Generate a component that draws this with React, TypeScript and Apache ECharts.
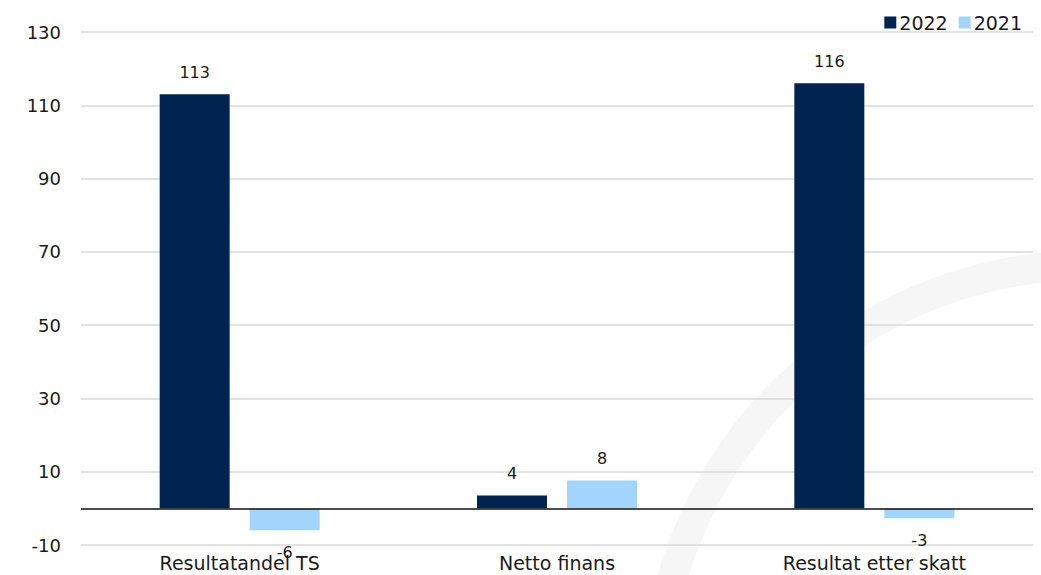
import React, { useEffect, useRef } from "react";
import * as echarts from "echarts";

const categories = ["Resultatandel TS", "Netto finans", "Resultat etter skatt"];
const values2022 = [113, 3.5, 116];
const values2021 = [-6, 7.6, -2.7];
const seriesNames = ["2022", "2021"];
const yTicks = { min: -10, max: 130, interval: 20 };

const FONT = "'DejaVu Sans', sans-serif";
const TEXT = "#1a1a1a";

function toData(vals: number[]) {
  return vals.map((v) => ({
    value: v,
    label: { position: v < 0 ? "bottom" : "top" },
  }));
}

export default function App() {
  const ref = useRef<HTMLDivElement>(null);
  useEffect(() => {
    document.body.style.margin = "0";
    const chart = echarts.init(ref.current!, null, { renderer: "svg" });
    const labelCommon = {
      show: true,
      distance: 14,
      color: TEXT,
      fontFamily: FONT,
      fontSize: 16,
      formatter: (p: any) => String(Math.round(p.value)),
    };
    chart.setOption({
      animation: false,
      backgroundColor: "#ffffff",
      graphic: [
        {
          type: "arc",
          z: -10,
          silent: true,
          shape: { cx: 1090, cy: 700, r: 435, startAngle: -3.05, endAngle: -1.35, clockwise: true },
          style: { stroke: "#f6f6f6", lineWidth: 30, fill: null },
        },
      ],
      legend: {
        data: seriesNames,
        right: 14,
        top: 8,
        itemWidth: 12,
        itemHeight: 12,
        itemGap: 11,
        icon: "rect",
        textStyle: { color: TEXT, fontFamily: FONT, fontSize: 19, padding: [0, 0, 0, -2] },
      },
      grid: { left: 81, right: 8, top: 32, bottom: 30, containLabel: false },
      xAxis: {
        type: "category",
        data: categories,
        axisLine: { show: false },
        axisTick: { show: false },
        axisLabel: { color: TEXT, fontFamily: FONT, fontSize: 19, margin: 8 },
      },
      yAxis: {
        type: "value",
        min: yTicks.min,
        max: yTicks.max,
        interval: yTicks.interval,
        axisLine: { show: false },
        axisTick: { show: false },
        axisLabel: { color: TEXT, fontFamily: FONT, fontSize: 18, margin: 20 },
        splitLine: { lineStyle: { color: "#d9d9d9", width: 1.5 } },
      },
      series: [
        {
          name: seriesNames[0],
          type: "bar",
          data: toData(values2022),
          barWidth: 70,
          barGap: "28.6%",
          itemStyle: { color: "#00234f" },
          label: labelCommon,
          markLine: {
            silent: true,
            symbol: "none",
            label: { show: false },
            lineStyle: { color: "#111111", width: 1.5, type: "solid" },
            data: [{ yAxis: 0 }],
          },
        },
        {
          name: seriesNames[1],
          type: "bar",
          data: toData(values2021),
          barWidth: 70,
          itemStyle: { color: "#a3d4fb" },
          label: labelCommon,
        },
      ],
    });
    return () => chart.dispose();
  }, []);
  return <div ref={ref} style={{ width: 1041, height: 575 }} />;
}
